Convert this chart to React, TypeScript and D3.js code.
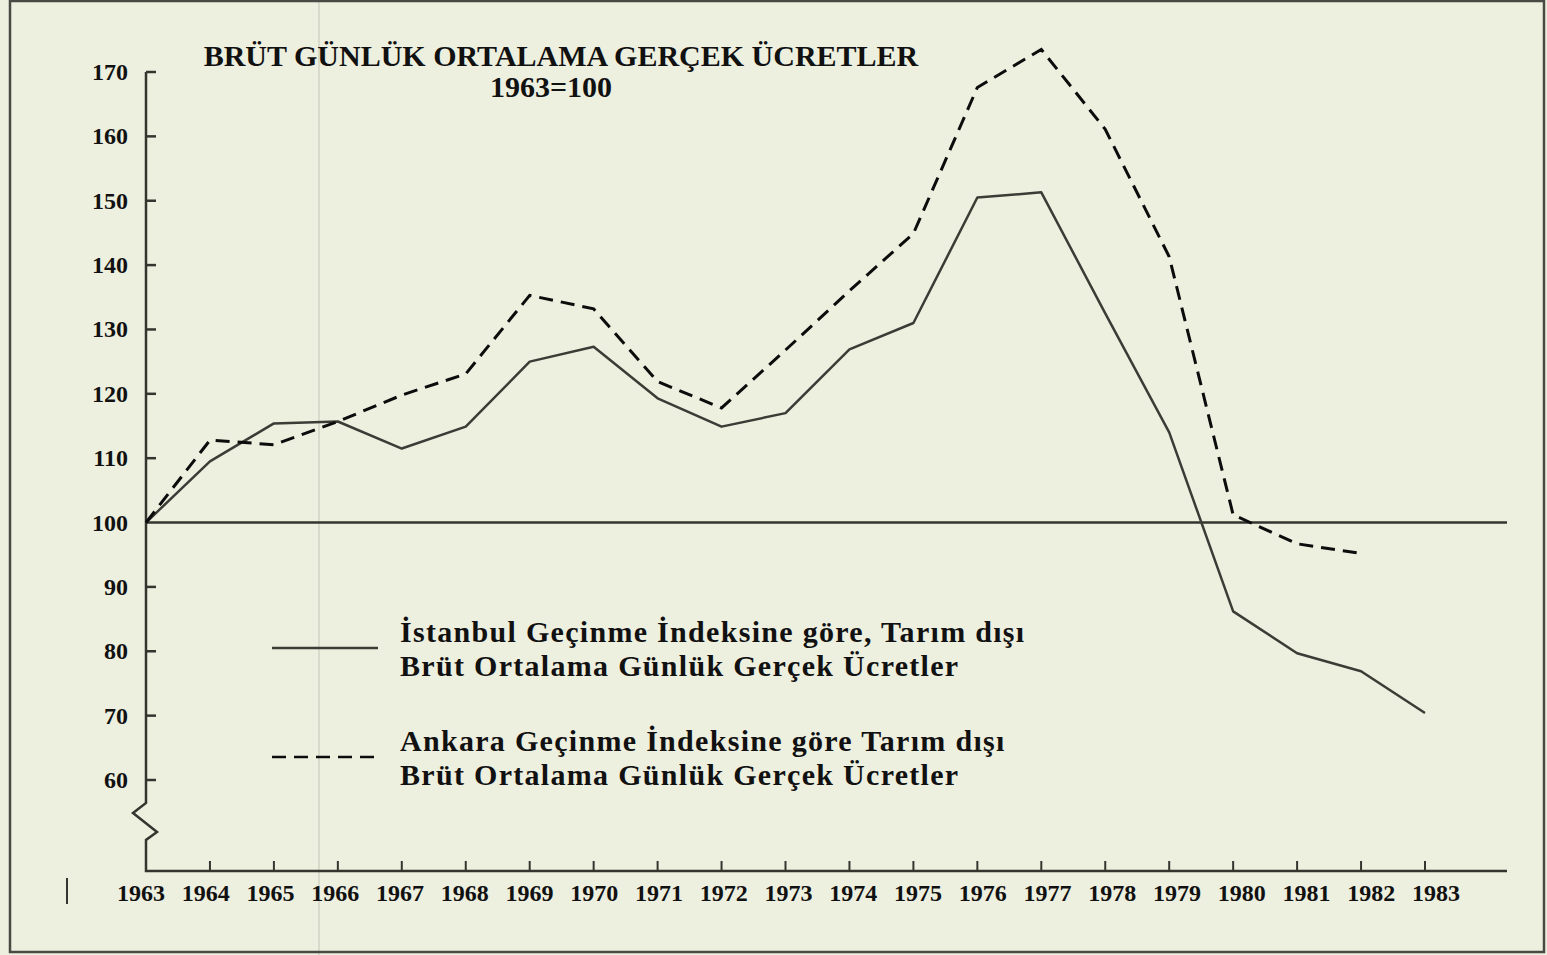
import React, { useEffect } from "react";
import * as d3 from "d3";

const years = [
  1963, 1964, 1965, 1966, 1967, 1968, 1969, 1970, 1971, 1972, 1973, 1974,
  1975, 1976, 1977, 1978, 1979, 1980, 1981, 1982, 1983,
];

// Istanbul index based (solid)
const istanbulValues = [
  100, 109.5, 115.4, 115.7, 111.5, 114.9, 125.0, 127.3, 119.3, 114.9, 117.0,
  126.9, 131.0, 150.5, 151.3, 132.5, 114.0, 86.2, 79.7, 76.9, 70.4,
];

// Ankara index based (dashed), stops at 1982
const ankaraValues = [
  100, 112.8, 112.1, 115.7, 119.8, 123.1, 135.3, 133.2, 121.9, 117.8, 126.8,
  136.0, 144.9, 167.6, 173.5, 161.1, 141.3, 101.2, 96.7, 95.2,
];

const yTicks = [60, 70, 80, 90, 100, 110, 120, 130, 140, 150, 160, 170];

const titleLines = ["BRÜT GÜNLÜK ORTALAMA GERÇEK ÜCRETLER", "1963=100"];
const legendSolid = [
  "İstanbul Geçinme İndeksine göre, Tarım dışı",
  "Brüt Ortalama Günlük Gerçek Ücretler",
];
const legendDashed = [
  "Ankara Geçinme İndeksine göre Tarım dışı",
  "Brüt Ortalama Günlük Gerçek Ücretler",
];

const W = 1547;
const H = 955;
const FONT = "'Liberation Serif', 'DejaVu Serif', serif";
const INK = "#34352f";

export default function App() {
  const svgRef = React.useRef(null);

  useEffect(() => {
    const svg = d3.select(svgRef.current);
    svg.selectAll("*").remove();

    const x = d3.scaleLinear().domain([1963, 1983]).range([146, 1425]);
    // labels are printed a little more spread out than the ticks
    const xLabel = d3.scaleLinear().domain([1963, 1983]).range([141, 1436]);
    const y = d3.scaleLinear().domain([60, 170]).range([780, 72]);
    const baseY = 871;
    const axisEnd = 1507;

    svg.append("rect").attr("width", W).attr("height", H).attr("fill", "#edefdf");

    // scan fold + page frame
    svg
      .append("line")
      .attr("x1", 319).attr("x2", 319).attr("y1", 0).attr("y2", H)
      .attr("stroke", "#d8dacb").attr("stroke-width", 2);
    svg
      .append("rect")
      .attr("x", 10).attr("y", 1).attr("width", 1534).attr("height", 951)
      .attr("fill", "none").attr("stroke", "#4a4a44").attr("stroke-width", 2.5);
    svg
      .append("line")
      .attr("x1", 67).attr("x2", 67).attr("y1", 878).attr("y2", 904)
      .attr("stroke", INK).attr("stroke-width", 2);

    const g = svg.append("g");

    // y axis with break
    const ax = x(1963);
    const axisPath = d3.path();
    axisPath.moveTo(ax, y(170));
    axisPath.lineTo(ax, 803);
    axisPath.lineTo(ax - 13, 813);
    axisPath.lineTo(ax + 11, 832);
    axisPath.lineTo(ax, 840);
    axisPath.lineTo(ax, baseY);
    axisPath.lineTo(axisEnd, baseY);
    g.append("path")
      .attr("d", axisPath.toString())
      .attr("fill", "none")
      .attr("stroke", INK)
      .attr("stroke-width", 2.5)
      .attr("stroke-linejoin", "miter");

    g.selectAll(".ytick")
      .data(yTicks.filter((d) => d !== 100))
      .enter()
      .append("line")
      .attr("x1", ax)
      .attr("x2", ax + 10)
      .attr("y1", (d) => y(d))
      .attr("y2", (d) => y(d))
      .attr("stroke", INK)
      .attr("stroke-width", 2.5);

    g.selectAll(".ylabel")
      .data(yTicks)
      .enter()
      .append("text")
      .attr("x", 128)
      .attr("y", (d) => y(d) + 8)
      .attr("text-anchor", "end")
      .attr("font-family", FONT)
      .attr("font-weight", "bold")
      .attr("font-size", 24)
      .attr("fill", "#111")
      .text((d) => d);

    // 100 reference line
    g.append("line")
      .attr("x1", ax)
      .attr("x2", axisEnd)
      .attr("y1", y(100))
      .attr("y2", y(100))
      .attr("stroke", INK)
      .attr("stroke-width", 2.5);

    g.selectAll(".xtick")
      .data(years.slice(1))
      .enter()
      .append("line")
      .attr("x1", (d) => x(d))
      .attr("x2", (d) => x(d))
      .attr("y1", baseY)
      .attr("y2", baseY - 10)
      .attr("stroke", INK)
      .attr("stroke-width", 2);

    g.selectAll(".xlabel")
      .data(years)
      .enter()
      .append("text")
      .attr("x", (d) => xLabel(d))
      .attr("y", 901)
      .attr("text-anchor", "middle")
      .attr("font-family", FONT)
      .attr("font-weight", "bold")
      .attr("font-size", 24)
      .attr("fill", "#111")
      .text((d) => d);

    const line = d3
      .line<number>()
      .x((d, i) => x(years[i]))
      .y((d) => y(d));

    g.append("path")
      .attr("d", line(istanbulValues))
      .attr("fill", "none")
      .attr("stroke", "#3b3c36")
      .attr("stroke-width", 2.5)
      .attr("stroke-linejoin", "round");

    g.append("path")
      .attr("d", line(ankaraValues))
      .attr("fill", "none")
      .attr("stroke", "#0c0c0c")
      .attr("stroke-width", 3)
      .attr("stroke-dasharray", "14,8");

    // title
    g.append("text")
      .attr("x", 561)
      .attr("y", 66)
      .attr("text-anchor", "middle")
      .attr("font-family", FONT)
      .attr("font-weight", "bold")
      .attr("font-size", 30)
      .attr("fill", "#111")
      .text(titleLines[0]);
    g.append("text")
      .attr("x", 551)
      .attr("y", 97)
      .attr("text-anchor", "middle")
      .attr("font-family", FONT)
      .attr("font-weight", "bold")
      .attr("font-size", 30)
      .attr("fill", "#111")
      .text(titleLines[1]);

    // legend
    const legend = [
      { lines: legendSolid, dash: null, y: 648, top: 642 },
      { lines: legendDashed, dash: "14,8", y: 757, top: 751 },
    ];
    legend.forEach((item) => {
      g.append("line")
        .attr("x1", 272)
        .attr("x2", 378)
        .attr("y1", item.y)
        .attr("y2", item.y)
        .attr("stroke", item.dash ? "#0c0c0c" : "#3b3c36")
        .attr("stroke-width", 2.5)
        .attr("stroke-dasharray", item.dash);
      item.lines.forEach((t, i) => {
        g.append("text")
          .attr("x", 400)
          .attr("y", item.top + i * 34)
          .attr("font-family", FONT)
          .attr("font-weight", "bold")
          .attr("font-size", 30)
          .attr("letter-spacing", 1.3)
          .attr("fill", "#111")
          .text(t);
      });
    });
  }, []);

  return (
    <div style={{ position: "absolute", left: 0, top: 0 }}>
      <svg ref={svgRef} width={W} height={H} style={{ display: "block" }} />
    </div>
  );
}
